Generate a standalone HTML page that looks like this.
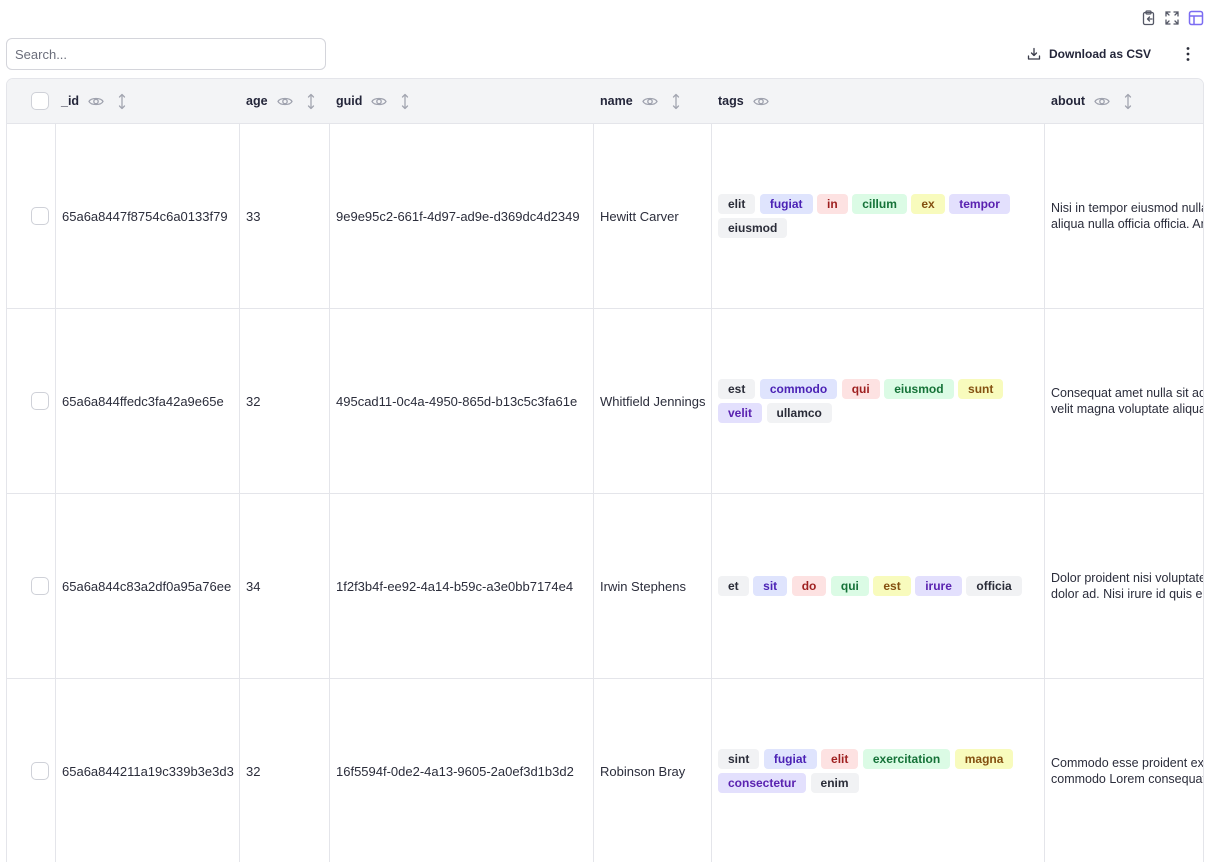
<!DOCTYPE html>
<html><head><meta charset="utf-8">
<style>
*{box-sizing:border-box;margin:0;padding:0}
html,body{width:1211px;height:862px;overflow:hidden;background:#fff;font-family:"Liberation Sans",sans-serif;color:#2b2d3b}
.abs{position:absolute}
.search{left:6px;top:38px;width:320px;height:32px;border:1px solid #d4d5db;border-radius:6px;font-size:13px;color:#6b6e7b;padding:8px 0 0 8px}
.dl{left:1027px;top:47px;font-size:12px;font-weight:bold;color:#24263a;display:flex;align-items:center;gap:8px}
.wrap{left:6px;top:78px;width:1198px;height:784px;border:1px solid #e4e5ea;border-bottom:none;border-radius:7px 7px 0 0;overflow:hidden}
.head{position:absolute;left:0;top:0;height:45px;width:1400px;background:#f3f4f6;border-bottom:1px solid #e4e5ea}
.hc{position:absolute;top:0;height:44px;display:flex;align-items:center;font-size:12.5px;font-weight:bold;color:#24263a}
.hc .eye{margin-left:9px}
.hc .srt{margin-left:14px}
.row{position:absolute;left:0;width:1400px;height:185px;border-bottom:1px solid #e4e5ea}
.c{position:absolute;top:0;height:100%;display:flex;align-items:center;font-size:13px;color:#2b2d3b;padding-left:6px;border-left:1px solid #e4e5ea;white-space:nowrap}
.cb{width:18px;height:18px;border:1px solid #cfd1d8;border-radius:5px;background:#fff}
.tags{display:flex;flex-wrap:wrap;gap:4px 4.5px;width:320px}
.t{height:20px;line-height:20px;padding:0 10px;border-radius:4px;font-size:12px;font-weight:bold}
.g{background:#f1f2f4;color:#2a2c38}
.b{background:#dfe4fd;color:#4b22b5}
.r{background:#fde2e2;color:#9e1f1f}
.gr{background:#dbfbe5;color:#157238}
.y{background:#f8fbbd;color:#845010}
.p{background:#e3e0fd;color:#5a22b0}
.ab{font-size:12.5px;line-height:16px;display:block;padding-top:0}
</style></head><body>

<!-- top icons -->
<svg class="abs" style="left:1141px;top:10px" width="16" height="16" viewBox="0 0 16 16" fill="none" stroke="#555866" stroke-width="1.3" stroke-linecap="round" stroke-linejoin="round"><rect x="2.5" y="2.5" width="10" height="12" rx="1.5"/><rect x="5" y="1" width="5" height="3" rx="1"/><path d="M11 9H6.5M8.5 7 6.5 9l2 2"/></svg>
<svg class="abs" style="left:1164px;top:10px" width="16" height="16" viewBox="0 0 16 16" fill="none" stroke="#555866" stroke-width="1.3" stroke-linecap="round"><path d="M2 6V2h4M2 2l3 3M14 6V2h-4M14 2l-3 3M2 10v4h4M2 14l3-3M14 10v4h-4M14 14l-3-3"/></svg>
<svg class="abs" style="left:1188px;top:10px" width="16" height="16" viewBox="0 0 16 16" fill="none" stroke="#7b6cf2" stroke-width="1.5"><rect x="1.5" y="1.5" width="13" height="13" rx="2"/><path d="M1.5 6h13M6 6v8.5"/></svg>

<div class="abs search">Search...</div>

<div class="abs dl"><svg width="14" height="14" viewBox="0 0 14 14" fill="none" stroke="#3a3c4a" stroke-width="1.3" stroke-linecap="round" stroke-linejoin="round"><path d="M7 1.5v7M4.5 6 7 8.5 9.5 6M1.5 9v3h11V9"/></svg><span>Download as CSV</span></div>
<svg class="abs" style="left:1185px;top:46px" width="6" height="16" viewBox="0 0 6 16" fill="#2a2c38"><circle cx="3" cy="2.5" r="1.4"/><circle cx="3" cy="8" r="1.4"/><circle cx="3" cy="13.5" r="1.4"/></svg>

<div class="abs wrap">
 <div class="head">
  <div class="hc" style="left:24px"><div class="cb"></div></div>
  <div class="hc" style="left:54px">_id<svg class="eye" width="16" height="11" viewBox="0 0 16 11" fill="none" stroke="#9fa2ae" stroke-width="1.3"><path d="M1 5.5C3 1.5 13 1.5 15 5.5 13 9.5 3 9.5 1 5.5Z"/><circle cx="8" cy="5.5" r="2.2"/></svg><svg class="srt" width="8" height="17" viewBox="0 0 8 17" fill="none" stroke="#a3a6b1" stroke-width="1.3" stroke-linecap="round" stroke-linejoin="round"><path d="M4 1.5v14M1.5 4 4 1.5 6.5 4M1.5 13 4 15.5 6.5 13"/></svg></div>
  <div class="hc" style="left:239px">age<svg class="eye" width="16" height="11" viewBox="0 0 16 11" fill="none" stroke="#9fa2ae" stroke-width="1.3"><path d="M1 5.5C3 1.5 13 1.5 15 5.5 13 9.5 3 9.5 1 5.5Z"/><circle cx="8" cy="5.5" r="2.2"/></svg><svg class="srt" width="8" height="17" viewBox="0 0 8 17" fill="none" stroke="#a3a6b1" stroke-width="1.3" stroke-linecap="round" stroke-linejoin="round"><path d="M4 1.5v14M1.5 4 4 1.5 6.5 4M1.5 13 4 15.5 6.5 13"/></svg></div>
  <div class="hc" style="left:329px">guid<svg class="eye" width="16" height="11" viewBox="0 0 16 11" fill="none" stroke="#9fa2ae" stroke-width="1.3"><path d="M1 5.5C3 1.5 13 1.5 15 5.5 13 9.5 3 9.5 1 5.5Z"/><circle cx="8" cy="5.5" r="2.2"/></svg><svg class="srt" width="8" height="17" viewBox="0 0 8 17" fill="none" stroke="#a3a6b1" stroke-width="1.3" stroke-linecap="round" stroke-linejoin="round"><path d="M4 1.5v14M1.5 4 4 1.5 6.5 4M1.5 13 4 15.5 6.5 13"/></svg></div>
  <div class="hc" style="left:593px">name<svg class="eye" width="16" height="11" viewBox="0 0 16 11" fill="none" stroke="#9fa2ae" stroke-width="1.3"><path d="M1 5.5C3 1.5 13 1.5 15 5.5 13 9.5 3 9.5 1 5.5Z"/><circle cx="8" cy="5.5" r="2.2"/></svg><svg class="srt" width="8" height="17" viewBox="0 0 8 17" fill="none" stroke="#a3a6b1" stroke-width="1.3" stroke-linecap="round" stroke-linejoin="round"><path d="M4 1.5v14M1.5 4 4 1.5 6.5 4M1.5 13 4 15.5 6.5 13"/></svg></div>
  <div class="hc" style="left:711px">tags<svg class="eye" width="16" height="11" viewBox="0 0 16 11" fill="none" stroke="#9fa2ae" stroke-width="1.3"><path d="M1 5.5C3 1.5 13 1.5 15 5.5 13 9.5 3 9.5 1 5.5Z"/><circle cx="8" cy="5.5" r="2.2"/></svg></div>
  <div class="hc" style="left:1044px">about<svg class="eye" width="16" height="11" viewBox="0 0 16 11" fill="none" stroke="#9fa2ae" stroke-width="1.3"><path d="M1 5.5C3 1.5 13 1.5 15 5.5 13 9.5 3 9.5 1 5.5Z"/><circle cx="8" cy="5.5" r="2.2"/></svg><svg class="srt" width="8" height="17" viewBox="0 0 8 17" fill="none" stroke="#a3a6b1" stroke-width="1.3" stroke-linecap="round" stroke-linejoin="round"><path d="M4 1.5v14M1.5 4 4 1.5 6.5 4M1.5 13 4 15.5 6.5 13"/></svg></div>
 </div>

 <div class="row" style="top:45px">
  <div class="c" style="left:0;width:49px;border-left:none;padding-left:24px"><div class="cb"></div></div>
  <div class="c" style="left:48px;width:185px">65a6a8447f8754c6a0133f79</div>
  <div class="c" style="left:232px;width:91px">33</div>
  <div class="c" style="left:322px;width:265px">9e9e95c2-661f-4d97-ad9e-d369dc4d2349</div>
  <div class="c" style="left:586px;width:119px">Hewitt Carver</div>
  <div class="c" style="left:704px;width:334px"><div class="tags"><span class="t g">elit</span><span class="t b">fugiat</span><span class="t r">in</span><span class="t gr">cillum</span><span class="t y">ex</span><span class="t p">tempor</span><span class="t g">eiusmod</span></div></div>
  <div class="c" style="left:1037px;width:400px"><span class="ab">Nisi in tempor eiusmod nulla dolor<br>aliqua nulla officia officia. Amet</span></div>
 </div>

 <div class="row" style="top:230px">
  <div class="c" style="left:0;width:49px;border-left:none;padding-left:24px"><div class="cb"></div></div>
  <div class="c" style="left:48px;width:185px">65a6a844ffedc3fa42a9e65e</div>
  <div class="c" style="left:232px;width:91px">32</div>
  <div class="c" style="left:322px;width:265px">495cad11-0c4a-4950-865d-b13c5c3fa61e</div>
  <div class="c" style="left:586px;width:119px">Whitfield Jennings</div>
  <div class="c" style="left:704px;width:334px"><div class="tags"><span class="t g">est</span><span class="t b">commodo</span><span class="t r">qui</span><span class="t gr">eiusmod</span><span class="t y">sunt</span><span class="t p">velit</span><span class="t g">ullamco</span></div></div>
  <div class="c" style="left:1037px;width:400px"><span class="ab">Consequat amet nulla sit ad<br>velit magna voluptate aliqua</span></div>
 </div>

 <div class="row" style="top:415px">
  <div class="c" style="left:0;width:49px;border-left:none;padding-left:24px"><div class="cb"></div></div>
  <div class="c" style="left:48px;width:185px">65a6a844c83a2df0a95a76ee</div>
  <div class="c" style="left:232px;width:91px">34</div>
  <div class="c" style="left:322px;width:265px">1f2f3b4f-ee92-4a14-b59c-a3e0bb7174e4</div>
  <div class="c" style="left:586px;width:119px">Irwin Stephens</div>
  <div class="c" style="left:704px;width:334px"><div class="tags"><span class="t g">et</span><span class="t b">sit</span><span class="t r">do</span><span class="t gr">qui</span><span class="t y">est</span><span class="t p">irure</span><span class="t g">officia</span></div></div>
  <div class="c" style="left:1037px;width:400px"><span class="ab">Dolor proident nisi voluptate<br>dolor ad. Nisi irure id quis eu</span></div>
 </div>

 <div class="row" style="top:600px">
  <div class="c" style="left:0;width:49px;border-left:none;padding-left:24px"><div class="cb"></div></div>
  <div class="c" style="left:48px;width:185px">65a6a844211a19c339b3e3d3</div>
  <div class="c" style="left:232px;width:91px">32</div>
  <div class="c" style="left:322px;width:265px">16f5594f-0de2-4a13-9605-2a0ef3d1b3d2</div>
  <div class="c" style="left:586px;width:119px">Robinson Bray</div>
  <div class="c" style="left:704px;width:334px"><div class="tags"><span class="t g">sint</span><span class="t b">fugiat</span><span class="t r">elit</span><span class="t gr">exercitation</span><span class="t y">magna</span><span class="t p">consectetur</span><span class="t g">enim</span></div></div>
  <div class="c" style="left:1037px;width:400px"><span class="ab">Commodo esse proident ex<br>commodo Lorem consequat</span></div>
 </div>
</div>
</body></html>
